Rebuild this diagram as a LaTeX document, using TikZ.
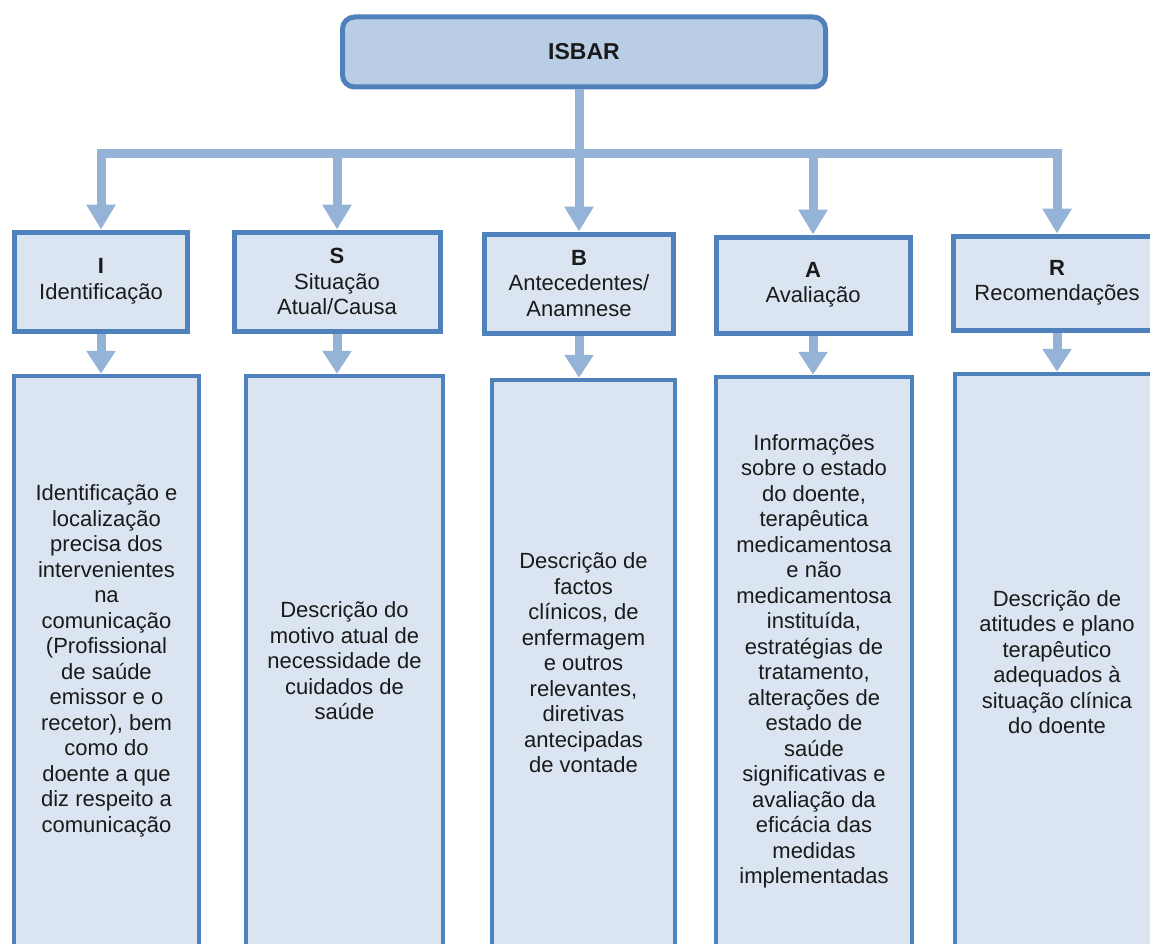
\documentclass[tikz,border=0pt]{standalone}
\usepackage{fontspec}
\setmainfont{Liberation Sans}
\usetikzlibrary{arrows.meta}
\definecolor{boxline}{HTML}{4F81BD}
\definecolor{boxfill}{HTML}{DBE5F1}
\definecolor{topfill}{HTML}{B9CDE5}
\definecolor{linkcol}{HTML}{95B3D7}
\definecolor{ink}{HTML}{1A1A1A}
\begin{document}
\begin{tikzpicture}[x=1pt,y=-1pt,
  every node/.style={font=\fontsize{22}{25.5}\selectfont, text=ink},
  titlebox/.style={draw=boxline, fill=topfill, line width=5pt, rounded corners=12pt,
    minimum width=483pt, minimum height=70pt, inner sep=0pt},
  headbox/.style={draw=boxline, fill=boxfill, line width=5pt, inner sep=0pt, align=center},
  textbox/.style={draw=boxline, fill=boxfill, line width=4.5pt, inner sep=0pt, align=center},
  plain/.style={inner sep=0pt, align=center},
  link/.style={draw=linkcol, line width=9pt},
  linkarrow/.style={link, -{Triangle[length=25pt,width=28pt]}},
  shortarrow/.style={link, -{Triangle[length=23pt,width=28pt]}},
]
\useasboundingbox (0,0) rectangle (1150,944);
\clip (0,0) rectangle (1150,944);

% title
\node[titlebox] (isbar) at (584,52) {\fontsize{23}{26}\selectfont\textbf{ISBAR}};

% header boxes
\node[headbox, minimum width=173pt, minimum height=99pt] (hI) at (101,281.5)
  {\textbf{I}\\Identificação};
\node[headbox, minimum width=206pt, minimum height=99pt] (hS) at (337,281.5)
  {\textbf{S}\\Situação\\Atual/Causa};
\node[headbox, minimum width=189pt, minimum height=99pt] (hB) at (579,283.5)
  {\textbf{B}\\Antecedentes/\\Anamnese};
\node[headbox, minimum width=194pt, minimum height=96pt] (hA) at (813,285)
  {\textbf{A}\\Avaliação};
% the last column runs on past the right edge of the page
\node[headbox, minimum width=247pt, minimum height=94pt] (hR) at (1076.5,283) {};
\node[plain] (hRt) at (1057,283) {\textbf{R}\\Recomendações};

% description boxes
\node[textbox, minimum width=185pt, minimum height=570pt] (lI) at (106.5,661)
  {Identificação e\\localização\\precisa dos\\intervenientes\\na\\comunicação\\(Profissional\\de saúde\\emissor e o\\recetor), bem\\como do\\doente a que\\diz respeito a\\comunicação};
\node[textbox, minimum width=197pt, minimum height=570pt] (lS) at (344.5,661)
  {Descrição do\\motivo atual de\\necessidade de\\cuidados de\\saúde};
\node[textbox, minimum width=183pt, minimum height=566pt] (lB) at (583.5,663)
  {Descrição de\\factos\\clínicos, de\\enfermagem\\e outros\\relevantes,\\diretivas\\antecipadas\\de vontade};
\node[textbox, minimum width=196pt, minimum height=569pt] (lA) at (814,661.5)
  {Informações\\sobre o estado\\do doente,\\terapêutica\\medicamentosa\\e não\\medicamentosa\\instituída,\\estratégias de\\tratamento,\\alterações de\\estado de\\saúde\\significativas e\\avaliação da\\eficácia das\\medidas\\implementadas};
\node[textbox, minimum width=245pt, minimum height=572pt] (lR) at (1077.5,660) {};
\node[plain] (lRt) at (1057,662)
  {Descrição de\\atitudes e plano\\terapêutico\\adequados à\\situação clínica\\do doente};

% distribution bus
\path (isbar.south) ++(0,64) coordinate (bus);
\draw[link] (hB.north |- isbar.south) -- (hB.north |- bus);
\draw[link, {Triangle[length=25pt,width=28pt]}-{Triangle[length=25pt,width=28pt]}]
  (hI.north) -- (hI.north |- bus) -- (hRt |- bus) -- (hRt |- hR.north);
\draw[linkarrow] (hS.north |- bus) -- (hS.north);
\draw[linkarrow] (hB.north |- bus) -- (hB.north);
\draw[linkarrow] (hA.north |- bus) -- (hA.north);

% header to description
\draw[shortarrow] (hI.south) -- (hI.south |- lI.north);
\draw[shortarrow] (hS.south) -- (hS.south |- lS.north);
\draw[shortarrow] (hB.south) -- (hB.south |- lB.north);
\draw[shortarrow] (hA.south) -- (hA.south |- lA.north);
\draw[shortarrow] (hRt |- hR.south) -- (hRt |- lR.north);
\end{tikzpicture}
\end{document}
